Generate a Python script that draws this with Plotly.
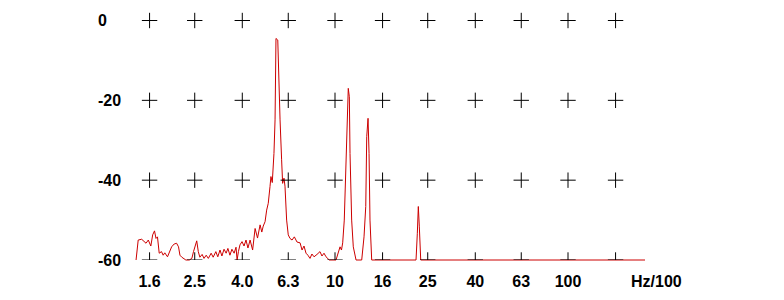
import plotly.graph_objects as go

# Spectrum (frequency in Hz/100, level in dB)
freq = [1.40, 1.43, 1.48, 1.51, 1.545, 1.58, 1.62, 1.65, 1.68, 1.705, 1.73, 1.76, 1.80, 1.83, 1.86,
        1.91, 1.945, 1.99, 2.04, 2.09, 2.13, 2.16, 2.20, 2.25, 2.29, 2.37, 2.43, 2.47, 2.51, 2.55,
        2.59, 2.63, 2.69, 2.74, 2.80, 2.86, 2.94, 3.00, 3.08, 3.14, 3.21, 3.27, 3.34, 3.41, 3.47,
        3.54, 3.61, 3.69, 3.76, 3.80, 3.85, 3.91, 3.99, 4.07, 4.15, 4.23, 4.32, 4.43, 4.54, 4.65,
        4.77, 4.85, 4.92, 5.01, 5.09, 5.17, 5.26, 5.31, 5.38, 5.43, 5.47, 5.53, 5.58, 5.68, 5.73,
        5.81, 5.90, 5.96, 6.04, 6.10, 6.20, 6.30, 6.41, 6.54, 6.69, 6.87, 7.08, 7.22, 7.36, 7.51,
        7.65, 7.81, 7.96, 8.13, 8.37, 8.62, 8.79, 8.97, 9.15, 9.45, 10.10, 10.23, 10.51, 10.66, 10.79,
        10.96, 11.15, 11.29, 11.40, 11.52, 11.60, 11.79, 11.98, 12.31, 13.02, 13.32, 13.55, 13.68, 13.86,
        14.00, 14.13, 14.37, 22.27, 22.56, 22.78, 23.01, 23.33, 214.0]
level = [-60.0, -55.0, -54.8, -55.2, -55.8, -55.0, -56.5, -53.7, -52.7, -54.6, -54.2, -58.3, -57.9, -58.8, -58.2,
         -59.2, -57.9, -56.7, -56.0, -55.8, -56.7, -58.8, -59.3, -59.8, -60.0, -60.0, -59.6, -57.9, -56.2, -55.2,
         -57.9, -59.3, -58.6, -59.6, -58.8, -59.6, -58.3, -59.3, -57.9, -59.2, -57.5, -59.0, -57.3, -58.3, -57.1,
         -58.8, -57.3, -58.3, -56.8, -60.0, -57.9, -56.2, -55.4, -56.5, -55.0, -57.0, -55.0, -57.5, -52.1, -54.5,
         -51.2, -53.0, -51.5, -50.4, -47.5, -45.8, -41.6, -39.1, -40.6, -37.0, -33.3, -24.9, -4.5, -4.9, -14.9,
         -24.9, -34.9, -40.8, -39.5, -41.5, -50.0, -53.7, -54.6, -55.0, -54.2, -55.5, -55.7, -57.5, -56.5, -58.3,
         -58.8, -59.6, -58.5, -59.2, -58.6, -57.9, -59.0, -58.3, -59.2, -60.0, -60.0, -58.8, -56.7, -57.5, -55.7,
         -50.0, -37.5, -24.9, -17.0, -19.1, -33.3, -50.0, -56.7, -60.0, -60.0, -54.2, -46.6, -29.1, -24.5,
         -33.3, -50.0, -60.0, -60.0, -53.3, -46.6, -51.7, -60.0, -60.0]

x_ticks = [1.6, 2.5, 4.0, 6.3, 10, 16, 25, 40, 63, 100, 160]
x_ticktext = ["1.6", "2.5", "4.0", "6.3", "10", "16", "25", "40", "63", "100", ""]
y_ticks = [0, -20, -40, -60]
y_ticktext = ["0", "-20", "-40", "-60"]
unit_label = "Hz/100"

FONT = dict(family="Liberation Sans, Arial, sans-serif", size=16, color="black", weight="bold")

fig = go.Figure()

# grid crosses
gx = [x for y in y_ticks for x in x_ticks]
gy = [y for y in y_ticks for x in x_ticks]
fig.add_trace(go.Scatter(
    x=gx, y=gy, xaxis="x", yaxis="y2", mode="markers", hoverinfo="skip",
    marker=dict(symbol="cross-thin", size=11, line=dict(color="black", width=1)),
))

fig.add_trace(go.Scatter(
    x=freq, y=level, xaxis="x", yaxis="y", mode="lines",
    line=dict(color="#cc0000", width=1), hoverinfo="skip",
))

annotations = []
for v, t in zip(y_ticks, y_ticktext):
    annotations.append(dict(x=96 / 784, xref="paper", y=v, yref="y2", text=t,
                            showarrow=False, xanchor="left", yanchor="middle", font=FONT))
annotations.append(dict(x=2.38, xref="x", y=0, yref="paper", yshift=-15, text=unit_label,
                        showarrow=False, xanchor="center", yanchor="middle", font=FONT))

fig.update_layout(
    width=784, height=300,
    margin=dict(l=0, r=0, t=0, b=34, pad=0),
    paper_bgcolor="white", plot_bgcolor="rgba(0,0,0,0)",
    showlegend=False,
    xaxis=dict(type="log", range=[-0.4378, 2.927], tickvals=x_ticks, ticktext=x_ticktext,
               showgrid=False, zeroline=False, showline=False, ticks="", tickfont=FONT,
               anchor="y", ticklabelstandoff=4),
    yaxis=dict(range=[-61.503, 5.136], domain=[0, 1], showgrid=False, zeroline=False,
               showline=False, showticklabels=False, ticks=""),
    yaxis2=dict(range=[-60, 5.136], domain=[6 / 266, 1], anchor="x", showgrid=False,
                zeroline=False, showline=False, showticklabels=False, ticks=""),
    annotations=annotations,
)

fig.write_html("out.html")
